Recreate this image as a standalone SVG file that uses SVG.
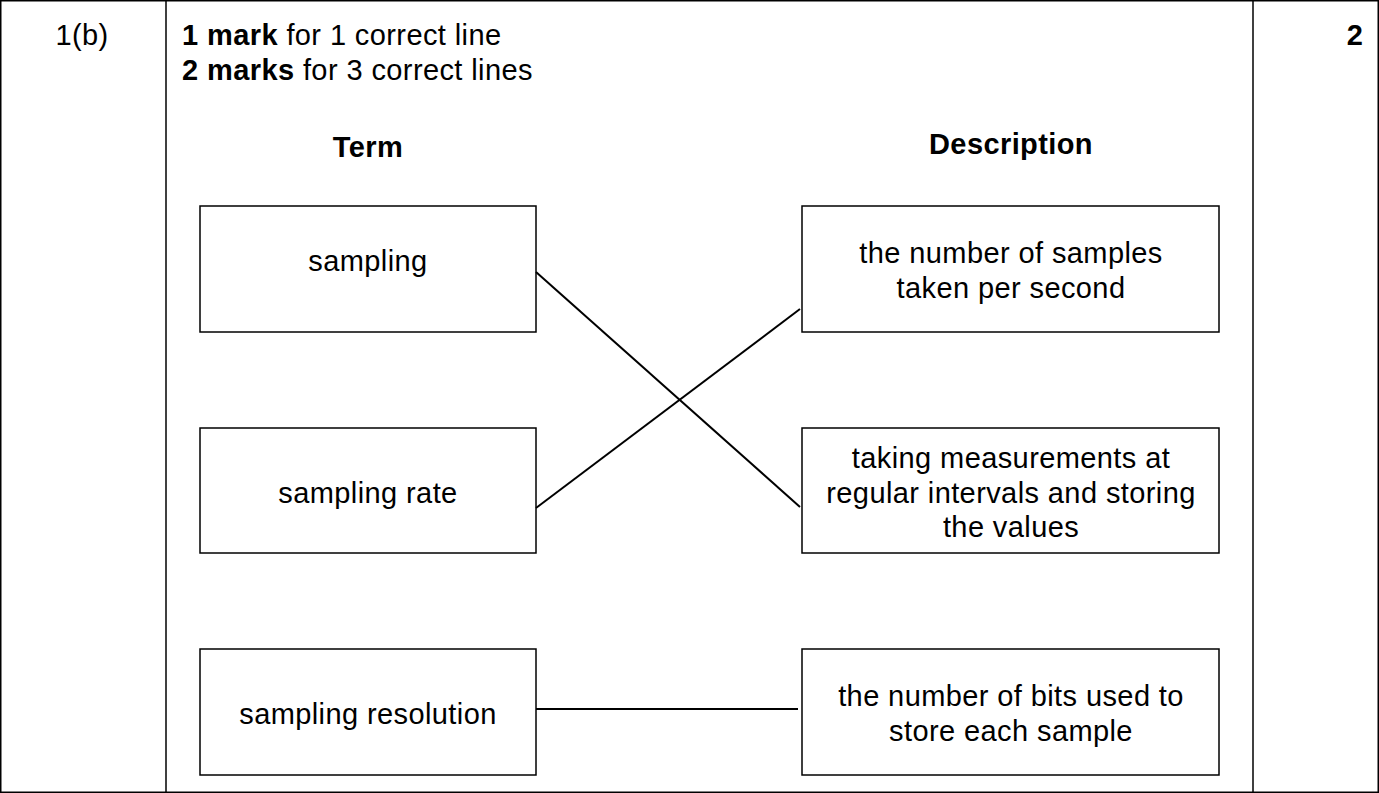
<svg xmlns="http://www.w3.org/2000/svg" width="1379" height="793" viewBox="0 0 1379 793">
<style>
text{font-family:"Liberation Sans",Arial,sans-serif;font-size:29px;letter-spacing:0.4px;fill:#000}
.b{font-weight:bold}
.c{text-anchor:middle}
.box{fill:#fff;stroke:#000;stroke-width:1.5}
.ln{stroke:#000;stroke-width:2;fill:none}
</style>
<rect width="1379" height="793" fill="#fff"/>
<g id="table" class="ln">
<rect x="0.75" y="0.75" width="1377.5" height="791.5" style="stroke-width:1.5"/>
<line x1="166" y1="0" x2="166" y2="793" style="stroke-width:1.5"/>
<line x1="1253" y1="0" x2="1253" y2="793" style="stroke-width:1.5"/>
</g>
<text x="82" y="45" class="c">1(b)</text>
<text x="1355" y="45" class="b c">2</text>
<text x="182" y="45"><tspan class="b">1 mark</tspan> for 1 correct line</text>
<text x="182" y="80"><tspan class="b">2 marks</tspan> for 3 correct lines</text>
<text x="368" y="157" class="b c">Term</text>
<text x="1011" y="154" class="b c">Description</text>
<g id="t1"><rect class="box" x="200" y="206" width="336" height="126"/><text x="368" y="271" class="c">sampling</text></g>
<g id="t2"><rect class="box" x="200" y="428" width="336" height="125"/><text x="368" y="503" class="c">sampling rate</text></g>
<g id="t3"><rect class="box" x="200" y="649" width="336" height="126"/><text x="368" y="724" class="c">sampling resolution</text></g>
<g id="d1"><rect class="box" x="802" y="206" width="417" height="126"/><text x="1011" y="263" class="c">the number of samples</text><text x="1011" y="298" class="c">taken per second</text></g>
<g id="d2"><rect class="box" x="802" y="428" width="417" height="125"/><text x="1011" y="468" class="c">taking measurements at</text><text x="1011" y="503" class="c">regular intervals and storing</text><text x="1011" y="537" class="c">the values</text></g>
<g id="d3"><rect class="box" x="802" y="649" width="417" height="126"/><text x="1011" y="706" class="c">the number of bits used to</text><text x="1011" y="741" class="c">store each sample</text></g>
<g id="connectors" class="ln">
<line x1="536" y1="272" x2="800" y2="507"/>
<line x1="536" y1="508" x2="800" y2="309"/>
<line x1="536" y1="709" x2="798" y2="709"/>
</g>
</svg>
